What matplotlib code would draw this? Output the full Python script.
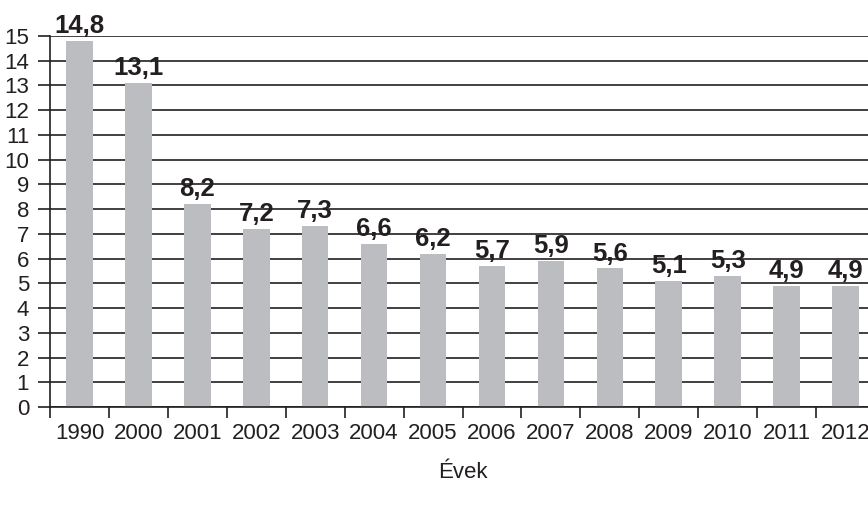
import matplotlib.pyplot as plt
import numpy as np

years = ['1990', '2000', '2001', '2002', '2003', '2004', '2005', '2006',
         '2007', '2008', '2009', '2010', '2011', '2012']
values = [14.8, 13.1, 8.2, 7.2, 7.3, 6.6, 6.2, 5.7, 5.9, 5.6, 5.1, 5.3, 4.9, 4.9]

plt.rcParams['font.family'] = ['Liberation Sans', 'DejaVu Sans']

fig = plt.figure(figsize=(8.68, 5.07), dpi=100)
W, H = 868, 507
ax = fig.add_axes([50 / W, (H - 407) / H, 825 / W, 371 / H])

x = np.arange(len(years))
ax.bar(x, values, width=0.45, color='#bcbdc1', zorder=2)

for xi, v in zip(x, values):
    ax.text(xi, v + 0.12, ('%.1f' % v).replace('.', ','), ha='center', va='bottom',
            fontsize=18.5, fontweight='bold', color='#231f20', zorder=3)

ax.set_xlim(-0.5, len(years) - 0.5)
ax.set_ylim(0, 15)
ax.set_yticks(range(0, 16))
ax.tick_params(axis='y', labelsize=16, length=9, width=1.2, direction='out',
               pad=6, colors='#231f20')
ax.yaxis.grid(True, color='#231f20', linewidth=1.2, zorder=1)

ax.set_xticks(x)
ax.set_xticklabels(years)
ax.tick_params(axis='x', which='major', length=0, labelsize=16, pad=11.5,
               colors='#231f20')
ax.set_xticks(np.arange(-0.5, len(years), 1), minor=True)
ax.tick_params(axis='x', which='minor', length=8, width=1.2, direction='out',
               color='#231f20')

for s in ['top', 'right']:
    ax.spines[s].set_visible(False)
ax.spines['left'].set_linewidth(1.2)
ax.spines['bottom'].set_linewidth(1.2)
ax.spines['left'].set_color('#231f20')
ax.spines['bottom'].set_color('#231f20')

ax.set_xlabel('Évek', fontsize=16, labelpad=13, color='#231f20')

fig.savefig('out.png', dpi=100)
